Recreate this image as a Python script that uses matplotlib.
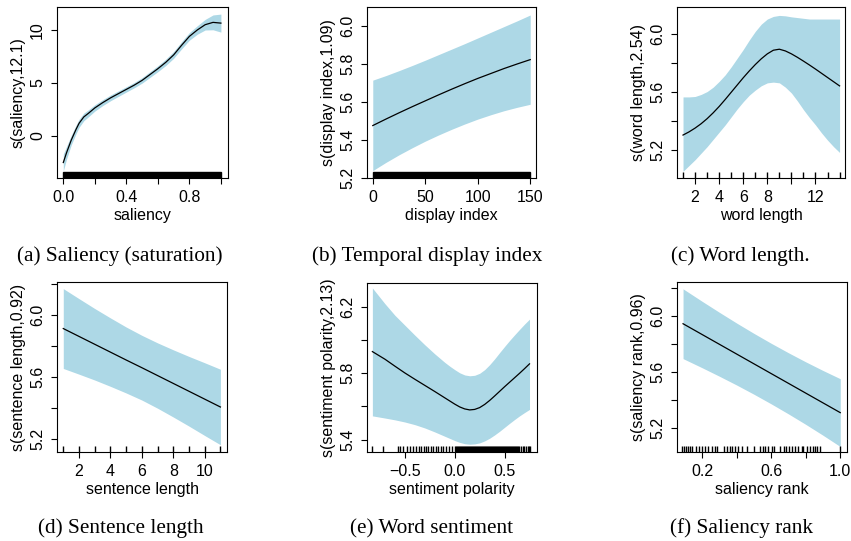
import numpy as np
import matplotlib
matplotlib.use('Agg')
import matplotlib.pyplot as plt
from matplotlib.patches import Rectangle

# (a) saliency
sal_x = [0, 0.02, 0.05, 0.08, 0.1, 0.13, 0.16, 0.2, 0.25, 0.3, 0.35, 0.4, 0.45,
         0.5, 0.55, 0.6, 0.65, 0.7, 0.75, 0.8, 0.85, 0.9, 0.95, 1.0]
sal_fit = [-2.5, -1.6, -0.4, 0.6, 1.2, 1.8, 2.15, 2.65, 3.15, 3.6, 4.0, 4.4, 4.8,
           5.25, 5.8, 6.35, 6.95, 7.65, 8.55, 9.4, 10.0, 10.5, 10.72, 10.65]
sal_se = [0.8, 0.6, 0.45, 0.4, 0.38, 0.36, 0.33, 0.3, 0.28, 0.27, 0.26, 0.25, 0.25,
          0.26, 0.27, 0.28, 0.3, 0.32, 0.34, 0.36, 0.4, 0.5, 0.7, 0.85]
sal_rug = (0.0, 1.0)   # rug saturated over the whole range

# (b) display index
disp_x = [0, 12.5, 25, 37.5, 50, 62.5, 75, 87.5, 100, 112.5, 125, 137.5, 150]
disp_fit = [5.474, 5.508, 5.541, 5.573, 5.604, 5.635, 5.665, 5.694, 5.722,
            5.748, 5.774, 5.798, 5.821]
disp_hi = [5.713, 5.737, 5.763, 5.79, 5.818, 5.847, 5.876, 5.905, 5.935, 5.965,
           5.995, 6.025, 6.056]
disp_lo = [5.237, 5.28, 5.32, 5.357, 5.392, 5.424, 5.454, 5.482, 5.508, 5.531,
           5.552, 5.57, 5.586]
disp_rug = (0, 150)

# (c) word length
wl_x = [1, 1.5, 2, 2.5, 3, 3.5, 4, 4.5, 5, 5.5, 6, 6.5, 7, 7.5, 8, 8.5, 9, 9.5,
        10, 10.5, 11, 11.5, 12, 12.5, 13, 13.5, 14]
wl_fit = [5.30, 5.322, 5.348, 5.378, 5.413, 5.453, 5.497, 5.545, 5.595, 5.645,
          5.695, 5.742, 5.786, 5.826, 5.86, 5.885, 5.892, 5.88, 5.86, 5.836,
          5.81, 5.783, 5.755, 5.726, 5.697, 5.668, 5.639]
wl_hi = [5.563, 5.563, 5.566, 5.58, 5.60, 5.63, 5.67, 5.715, 5.77, 5.83, 5.89,
         5.955, 6.015, 6.065, 6.10, 6.118, 6.125, 6.122, 6.115, 6.11, 6.105, 6.10,
         6.10, 6.10, 6.10, 6.10, 6.10]
wl_lo = [5.05, 5.09, 5.13, 5.175, 5.22, 5.27, 5.32, 5.37, 5.425, 5.48, 5.53,
         5.575, 5.61, 5.64, 5.66, 5.665, 5.66, 5.63, 5.59, 5.535, 5.475, 5.42,
         5.37, 5.315, 5.265, 5.22, 5.18]
wl_rug = [1, 2, 3, 4, 5, 6, 7, 8, 9, 10, 11, 12, 13, 14]

# (d) sentence length
sl_x = [1, 2, 3, 4, 5, 6, 7, 8, 9, 10, 11]
sl_fit = [5.914, 5.863, 5.812, 5.761, 5.710, 5.660, 5.609, 5.558, 5.507, 5.456,
          5.405]
sl_hi = [6.173, 6.108, 6.044, 5.983, 5.924, 5.870, 5.821, 5.776, 5.733, 5.692,
         5.650]
sl_lo = [5.655, 5.618, 5.580, 5.539, 5.496, 5.450, 5.397, 5.340, 5.281, 5.220,
         5.160]
sl_rug = [1, 2, 3, 4, 5, 6, 7, 8, 9, 10, 11]

# (e) sentiment polarity
sp_x = [-0.826, -0.7, -0.6, -0.5, -0.4, -0.3, -0.2, -0.1, -0.05, 0.0, 0.05, 0.1,
        0.15, 0.2, 0.25, 0.3, 0.35, 0.4, 0.45, 0.5, 0.55, 0.6, 0.65, 0.7, 0.75]
sp_fit = [5.931, 5.885, 5.843, 5.802, 5.764, 5.727, 5.69, 5.652, 5.633, 5.614,
          5.597, 5.585, 5.579, 5.582, 5.593, 5.612, 5.636, 5.663, 5.691, 5.719,
          5.746, 5.773, 5.80, 5.828, 5.857]
sp_hi = [6.315, 6.22, 6.15, 6.09, 6.03, 5.972, 5.917, 5.866, 5.843, 5.822, 5.803,
         5.79, 5.785, 5.788, 5.80, 5.822, 5.852, 5.887, 5.925, 5.962, 5.998,
         6.032, 6.065, 6.097, 6.127]
sp_lo = [5.543, 5.53, 5.519, 5.506, 5.49, 5.47, 5.446, 5.42, 5.407, 5.394, 5.383,
         5.375, 5.372, 5.374, 5.38, 5.392, 5.408, 5.428, 5.45, 5.474, 5.498,
         5.521, 5.543, 5.563, 5.582]
sp_rug = [-0.826, -0.719, -0.569, -0.549, -0.519, -0.478, -0.448, -0.418, -0.388,
          -0.358, -0.338, -0.308, -0.288, -0.268, -0.238, -0.218, -0.188, -0.168,
          -0.137, -0.117, -0.087, -0.057, -0.03, 0.0, 0.01, 0.02, 0.03, 0.04, 0.05,
          0.06, 0.07, 0.08, 0.09, 0.1, 0.11, 0.12, 0.13, 0.14, 0.15, 0.16, 0.17,
          0.18, 0.19, 0.2, 0.21, 0.22, 0.23, 0.24, 0.25, 0.26, 0.27, 0.28, 0.29,
          0.3, 0.31, 0.32, 0.33, 0.34, 0.35, 0.36, 0.37, 0.38, 0.39, 0.4, 0.41,
          0.42, 0.43, 0.44, 0.45, 0.46, 0.47, 0.48, 0.49, 0.5, 0.51, 0.52, 0.53,
          0.54, 0.55, 0.56, 0.57, 0.58, 0.59, 0.6, 0.61, 0.62, 0.63, 0.64, 0.66,
          0.68, 0.69, 0.71, 0.73, 0.74, 0.75]

# (f) saliency rank
sr_x = [0.09, 0.2, 0.3, 0.4, 0.5, 0.6, 0.7, 0.8, 0.9, 1.0]
sr_fit = [5.947, 5.87, 5.80, 5.73, 5.66, 5.59, 5.52, 5.45, 5.38, 5.31]
sr_hi = [6.197, 6.108, 6.029, 5.952, 5.878, 5.807, 5.739, 5.674, 5.612, 5.553]
sr_lo = [5.697, 5.632, 5.571, 5.508, 5.442, 5.373, 5.301, 5.226, 5.148, 5.067]
sr_rug = [0.086, 0.098, 0.109, 0.121, 0.132, 0.144, 0.165, 0.18, 0.202, 0.219,
          0.236, 0.258, 0.277, 0.287, 0.325, 0.345, 0.364, 0.373, 0.393, 0.408,
          0.431, 0.46, 0.498, 0.537, 0.55, 0.566, 0.579, 0.606, 0.618, 0.653,
          0.672, 0.687, 0.705, 0.722, 0.739, 0.753, 0.778, 0.787, 0.807, 0.826,
          0.843, 0.855, 0.868, 0.88, 1.0]

captions = ['(a) Saliency (saturation)', '(b) Temporal display index',
            '(c) Word length.', '(d) Sentence length', '(e) Word sentiment',
            '(f) Saliency rank']

plt.rcParams['font.family'] = ['Liberation Sans', 'DejaVu Sans']
plt.rcParams['font.size'] = 11.5

W, H = 851, 541
fig = plt.figure(figsize=(W / 100, H / 100), dpi=100)


def box(x0, y0, x1, y1):
    return fig.add_axes([x0 / W, 1 - y1 / H, (x1 - x0) / W, (y1 - y0) / H])


def panel(ax, x, fit, lo, hi, xlim, ylim, xt, xl, yt, yl, xlabel, ylabel,
          rug=None, rug_extent=None):
    ax.fill_between(x, lo, hi, color='lightblue', lw=0)
    ax.plot(x, fit, color='black', lw=0.9)
    tr = ax.get_xaxis_transform()
    if rug is not None:
        ax.vlines(rug, 0, 0.035, transform=tr, color='black', lw=1.0)
    if rug_extent is not None:
        ax.add_patch(Rectangle((rug_extent[0], 0), rug_extent[1] - rug_extent[0],
                               0.035, transform=tr, color='black', lw=1.0))
    ax.set_xlim(xlim)
    ax.set_ylim(ylim)
    ax.set_xticks(xt)
    ax.set_xticklabels(xl)
    ax.set_yticks(yt)
    ax.set_yticklabels(yl, rotation=90, va='center')
    ax.tick_params(direction='out', length=4.5, width=0.8, pad=4)
    ax.set_xlabel(xlabel, labelpad=2)
    ax.set_ylabel(ylabel, labelpad=3)
    for s in ax.spines.values():
        s.set_linewidth(0.8)


ax = box(57, 7, 228, 178)
panel(ax, sal_x, sal_fit, np.subtract(sal_fit, sal_se), np.add(sal_fit, sal_se),
      (-0.04, 1.045), (-3.96, 12.17),
      [0, 0.2, 0.4, 0.6, 0.8, 1.0], ['0.0', '', '0.4', '', '0.8', ''],
      [0, 5, 10], ['0', '5', '10'], 'saliency', 's(saliency,12.1)',
      rug_extent=sal_rug)

ax = box(367, 7, 536, 178)
panel(ax, disp_x, disp_fit, disp_lo, disp_hi, (-5.5, 155.5), (5.198, 6.098),
      [0, 50, 100, 150], ['0', '50', '100', '150'],
      [5.2, 5.4, 5.6, 5.8, 6.0], ['5.2', '5.4', '5.6', '5.8', '6.0'],
      'display index', 's(display index,1.09)', rug_extent=disp_rug)

ax = box(677, 7, 845, 178)
panel(ax, wl_x, wl_fit, wl_lo, wl_hi, (0.5, 14.45), (5.004, 6.183),
      [2, 4, 6, 8, 10, 12], ['2', '4', '6', '8', '', '12'],
      [5.2, 5.4, 5.6, 5.8, 6.0], ['5.2', '', '5.6', '', '6.0'],
      'word length', 's(word length,2.54)', rug=wl_rug)

ax = box(57, 282, 227, 452)
panel(ax, sl_x, sl_fit, sl_lo, sl_hi, (0.6, 11.42), (5.113, 6.216),
      [2, 4, 6, 8, 10], ['2', '4', '6', '8', '10'],
      [5.2, 5.4, 5.6, 5.8, 6.0, 6.2], ['5.2', '', '5.6', '', '6.0', ''],
      'sentence length', 's(sentence length,0.92)', rug=sl_rug)

ax = box(367, 283, 537, 452)
panel(ax, sp_x, sp_fit, sp_lo, sp_hi, (-0.88, 0.825), (5.325, 6.345),
      [-0.5, 0.0, 0.5], ['\u22120.5', '0.0', '0.5'],
      [5.4, 5.6, 5.8, 6.0, 6.2], ['5.4', '', '5.8', '', '6.2'],
      'sentiment polarity', 's(sentiment polarity,2.13)', rug=sp_rug)

ax = box(677, 282, 847, 452)
panel(ax, sr_x, sr_fit, sr_lo, sr_hi, (0.055, 1.039), (5.028, 6.246),
      [0.2, 0.4, 0.6, 0.8, 1.0], ['0.2', '', '0.6', '', '1.0'],
      [5.2, 5.4, 5.6, 5.8, 6.0, 6.2], ['5.2', '', '5.6', '', '6.0', ''],
      'saliency rank', 's(saliency rank,0.96)', rug=sr_rug)

cap_pos = [(120, 261), (427, 261), (740, 261), (121, 533), (432, 533), (742, 533)]
for (cx, cy), txt in zip(cap_pos, captions):
    fig.text(cx / W, 1 - cy / H, txt, ha='center', va='baseline',
             family='Liberation Serif', fontsize=15.3)

fig.savefig('out.png', dpi=100)
